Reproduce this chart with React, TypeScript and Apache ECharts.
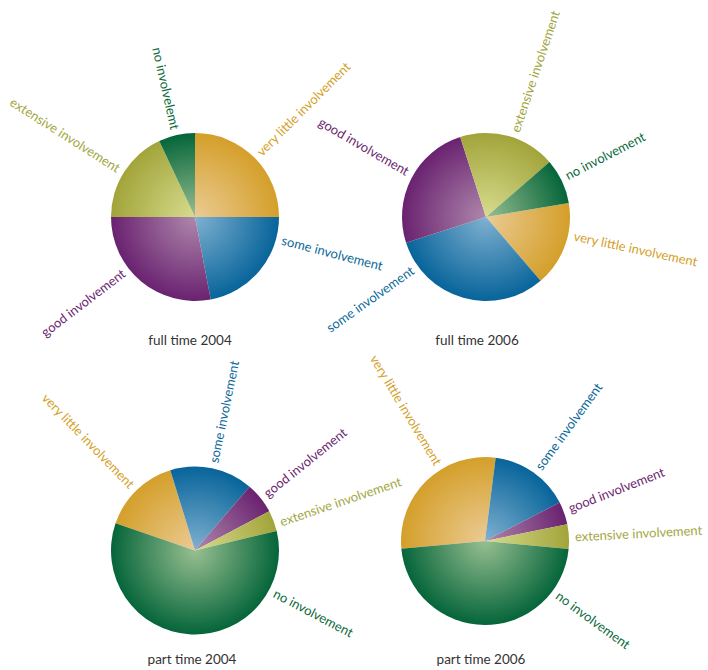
import { useEffect, useRef } from 'react';
import * as echarts from 'echarts';

// Shares of respondents by involvement level, clockwise in this order
const categories = [
  'very little involvement',
  'some involvement',
  'good involvement',
  'extensive involvement',
  'no involvement',
];
// the full-time 2004 panel carries its own spelling of the last label
const fullTime2004Labels = [
  'very little involvement',
  'some involvement',
  'good involvement',
  'extensive involvement',
  'no involvelemt',
];

const panelTitles = ['full time 2004', 'full time 2006', 'part time 2004', 'part time 2006'];

const fullTime2004 = [25, 22, 28, 18, 7];
const fullTime2006 = [16.4, 31.3, 25, 18.6, 8.7];
const partTime2004 = [15, 16, 6, 4, 59];
const partTime2006 = [28.5, 15.4, 4.4, 4.7, 47];

// slice colours: saturated rim, pale centre
const rimColors = ['#D49F2A', '#07649A', '#6A2270', '#A2A43A', '#05653A'];
const coreColors = ['#EBCB94', '#80B1D1', '#AE88AC', '#D7DC8E', '#98BF91'];
const textColors = ['#D49F2A', '#0B6898', '#6B2570', '#A3A63F', '#0A6A3A'];

const RADIUS = 84;
const LABEL_GAP = 6;
const FONT = 'Lato, "Open Sans", sans-serif';

const panels = [
  { values: fullTime2004, labels: fullTime2004Labels, cx: 195, cy: 217, startAngle: 90, labelShift: [0, -25, 13, 0, 0], titleX: 190, titleY: 340 },
  { values: fullTime2006, labels: categories, cx: 486, cy: 217, startAngle: 9.6, labelShift: [-8, 39, 3, 3, -2], titleX: 477, titleY: 340 },
  { values: partTime2004, labels: categories, cx: 195, cy: 550.5, startAngle: 161.1, labelShift: [0, 0, 0, 2, -65], titleX: 192, titleY: 659 },
  { values: partTime2006, labels: categories, cx: 485, cy: 541, startAngle: 185.3, labelShift: [13, 1, -2, 0, -54], titleX: 481, titleY: 659 },
];

function buildSeries(panel: (typeof panels)[number]) {
  const { values, labels, cx, cy, startAngle, labelShift } = panel;
  const total = values.reduce((a, b) => a + b, 0);
  return {
    type: 'pie',
    center: [cx, cy],
    radius: RADIUS,
    startAngle,
    clockwise: true,
    avoidLabelOverlap: false,
    silent: true,
    label: {
      show: true,
      position: 'outside',
      rotate: 'radial',
      fontFamily: FONT,
      fontSize: 13,
    },
    labelLine: { show: false },
    // radial text that starts just outside the rim, along the slice's direction
    labelLayout: (p: any) => {
      const i = p.dataIndex;
      let before = 0;
      for (let k = 0; k < i; k++) before += values[k];
      let theta = 90 - startAngle + ((before + values[i] / 2) / total) * 360 + labelShift[i];
      theta = ((theta % 360) + 360) % 360;
      const rad = (theta * Math.PI) / 180;
      const s = Math.sin(rad);
      const c = Math.cos(rad);
      const d = RADIUS + LABEL_GAP;
      const right = theta < 180;
      return {
        x: cx + d * s,
        y: cy - d * c,
        rotate: right ? 90 - theta : 270 - theta,
        align: right ? 'left' : 'right',
        verticalAlign: 'middle',
      };
    },
    data: values.map((v, i) => ({
      name: labels[i],
      value: v,
      itemStyle: {
        color: new echarts.graphic.RadialGradient(
          cx,
          cy,
          RADIUS,
          [
            { offset: 0, color: coreColors[i] },
            { offset: 1, color: rimColors[i] },
          ],
          true
        ),
        borderWidth: 0,
      },
      label: { color: textColors[i] },
    })),
  };
}

export default function App() {
  const ref = useRef<HTMLDivElement>(null);

  useEffect(() => {
    if (!ref.current) return;
    const chart = echarts.init(ref.current, undefined, { renderer: 'svg' });
    chart.setOption({
      animation: false,
      backgroundColor: '#ffffff',
      series: panels.map(buildSeries),
      graphic: panels.map((p, i) => ({
        type: 'text',
        x: p.titleX,
        y: p.titleY,
        style: {
          text: panelTitles[i],
          fill: '#333333',
          font: `13.5px ${FONT}`,
          textAlign: 'center',
          textVerticalAlign: 'middle',
        },
      })),
    });
    return () => chart.dispose();
  }, []);

  return (
    <div
      ref={ref}
      style={{ position: 'fixed', left: 0, top: 0, width: 708, height: 670, background: '#fff' }}
    />
  );
}
